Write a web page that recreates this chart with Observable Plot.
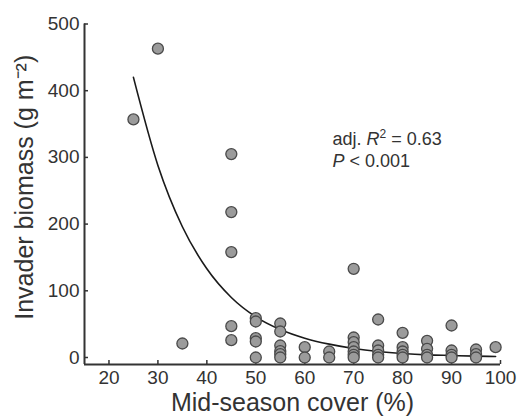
<!DOCTYPE html>
<html>
<head>
<meta charset="utf-8">
<script src="https://cdn.jsdelivr.net/npm/d3@7"></script>
<script src="https://cdn.jsdelivr.net/npm/@observablehq/plot@0.6"></script>
<style>
  html, body { margin: 0; padding: 0; background: #fff; }
  #chart { width: 520px; height: 416px; }
  svg { font-family: "Liberation Sans", Arial, sans-serif; }
</style>
</head>
<body>
<div id="chart"></div>
<script>
// Observed points: mid-season cover (%) and invader biomass (g m^-2)
const coverValues = [
  25, 30, 35,
  45, 45, 45, 45, 45,
  50, 50, 50, 50, 50,
  55, 55, 55, 55, 55, 55,
  60, 60,
  65, 65,
  70, 70, 70, 70, 70, 70, 70,
  75, 75, 75, 75, 75,
  80, 80, 80, 80, 80,
  85, 85, 85, 85,
  90, 90, 90, 90,
  95, 95, 95,
  99
];
const biomassValues = [
  357, 463, 21,
  305, 218, 158, 47, 26,
  59, 54, 29, 24, 0,
  51, 39, 18, 9.5, 5, 0,
  15.5, 0,
  9, 0,
  133, 30, 23, 15.5, 9, 4, 0,
  57, 18, 10.5, 4, 0,
  37, 15.5, 9, 4, 0,
  25, 13, 4, 0,
  48, 10.5, 4, 0,
  12, 5, 0,
  15.5
];
// Fitted curve
const fitCover   = [25, 30, 35, 40, 45, 50, 55, 60, 65, 70, 75, 80, 85, 90, 95, 99];
const fitBiomass = [420, 288, 196, 133, 90, 61, 42, 29, 20, 13.5, 9, 6, 4, 3, 2, 1.5];

const xTicks = [20, 30, 40, 50, 60, 70, 80, 90, 100];
const yTicks = [0, 100, 200, 300, 400, 500];
const xDomain = [15, 100];
const yDomain = [-10.5, 500];

const xTitle = "Mid-season cover (%)";
const yTitle = "Invader biomass (g m\u207B\u00B2)";
const statLine1 = "adj. R2 = 0.63";
const statLine2 = "P < 0.001";

const points = coverValues.map((c, i) => ({cover: c, biomass: biomassValues[i]}));
const fit = fitCover.map((c, i) => ({cover: c, biomass: fitBiomass[i]}));

const ink = "#333";

const plot = Plot.plot({
  width: 520,
  height: 416,
  marginLeft: 84,
  marginRight: 20,
  marginTop: 23.5,
  marginBottom: 52,
  style: {fontFamily: "'Liberation Sans', Arial, sans-serif", color: ink, background: "#fff", overflow: "visible"},
  x: {domain: xDomain},
  y: {domain: yDomain},
  marks: [
    Plot.axisX({ticks: xTicks, tickSize: -4, tickPadding: 10, fontSize: 19, label: null, stroke: ink, strokeWidth: 1.5}),
    Plot.axisY({ticks: yTicks, tickSize: -4, tickPadding: 9, fontSize: 19, label: null, stroke: ink, strokeWidth: 1.5}),
    Plot.ruleX([xDomain[0]], {stroke: ink, strokeWidth: 2}),
    Plot.ruleY([yDomain[0]], {stroke: ink, strokeWidth: 2}),
    Plot.line(fit, {x: "cover", y: "biomass", stroke: "#1a1a1a", strokeWidth: 1.6, curve: "monotone-x"}),
    Plot.dot(points, {x: "cover", y: "biomass", r: 5.5, fill: "#9b9b9b", stroke: "#4a4a4a", strokeWidth: 1.3}),
    Plot.text([statLine1], {text: d => d, frameAnchor: "top-left", dx: 248, dy: 108, textAnchor: "start", fontSize: 18, fill: ink}),
    Plot.text([statLine2], {text: d => d, frameAnchor: "top-left", dx: 248, dy: 130, textAnchor: "start", fontSize: 18, fill: ink}),
    Plot.text([xTitle], {text: d => d, frameAnchor: "bottom", textAnchor: "middle", lineAnchor: "bottom", dy: 46, fontSize: 25, fill: ink}),
    Plot.text([yTitle], {text: d => d, frameAnchor: "left", textAnchor: "middle", lineAnchor: "middle", dx: -60, dy: -7, rotate: -90, fontSize: 25, fill: ink})
  ]
});

// Styling of the statistics: italic R and P, superscript 2
d3.select(plot).selectAll("text").each(function() {
  const t = this.textContent;
  if (t === statLine1) {
    this.innerHTML = 'adj. <tspan font-style="italic">R</tspan><tspan font-size="12" dy="-7">2</tspan><tspan dy="7"> = 0.63</tspan>';
  } else if (t === statLine2) {
    this.innerHTML = '<tspan font-style="italic">P</tspan> &lt; 0.001';
  }
});

document.getElementById("chart").appendChild(plot);
</script>
</body>
</html>
